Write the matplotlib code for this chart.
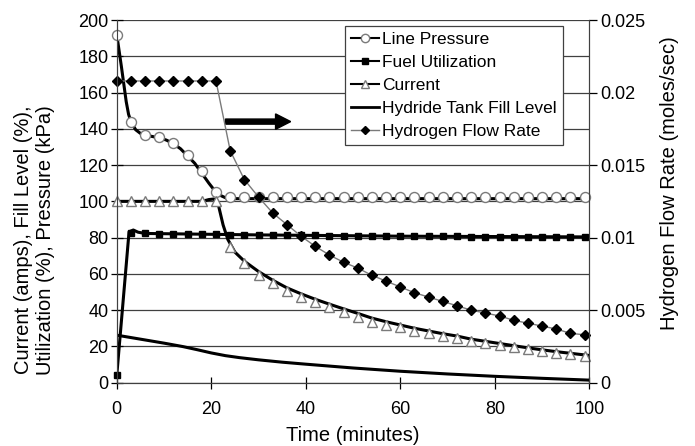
import numpy as np
import matplotlib.pyplot as plt
from matplotlib.lines import Line2D

plt.rcParams['font.family'] = ['Liberation Sans', 'DejaVu Sans']

# Sample times for the markers (minutes)
t_marks = np.arange(0, 100, 3)

# Line pressure (kPa)
pressure_marks = [192, 144, 136.5, 135.5, 132, 125.5, 116.5, 105] + [102.5] * 26
t_pressure_line = [0, 1, 2, 2.5, 3, 4, 5, 6, 7.5, 9, 10.5, 12, 13.5, 15, 16.5, 18,
                   19.5, 21, 22, 23, 24, 27, 100]
pressure_line = [192, 174, 155, 148, 144, 139.5, 137.5, 136.5, 135.8, 135, 133.8,
                 131.8, 129, 125, 121, 115.5, 110, 105, 103.2, 102, 101.5, 101.5, 101.5]

# Fuel utilization (%)
fuel_marks = [4, 82.5, 82.3, 82.2, 82.1, 82, 81.9, 81.8, 81.7, 81.6, 81.5,
              81.4, 81.3, 81.2, 81.2, 81.1, 81.0, 81.0, 80.9, 80.9, 80.8,
              80.8, 80.7, 80.7, 80.7, 80.6, 80.6, 80.6, 80.5, 80.5, 80.5,
              80.5, 80.5, 80.5]
t_fuel_line = [0, 2.6, 3.5, 4.5, 6, 9, 15, 30, 60, 100]
fuel_line = [4, 83.2, 84.2, 83, 82.3, 82.2, 82, 81.5, 80.8, 80.4]

# Current (amps)
current_marks = [100] * 8 + [75, 66, 59.5, 55, 50.7, 47.4, 44.6, 41.9, 39.1, 36.4,
                             33.6, 32, 30.5, 28.6, 27.2, 25.5, 24.4, 23, 21.9, 20.7,
                             19.6, 18.3, 17.2, 16.4, 15.8, 14.9]
t_current_line = [0, 18, 19.5, 20.5, 21.5, 22.5, 23.5, 25, 27, 30, 33, 36, 39, 42,
                  45, 48, 51, 54, 57, 60, 63, 66, 69, 72, 75, 78, 81, 84, 87, 90,
                  93, 96, 100]
current_line = [100, 100, 101, 101.3, 98, 87, 79, 72, 67, 61.3, 56.5, 52.3, 49, 46,
                43.3, 40.7, 38.2, 35.6, 33.6, 31.8, 30, 28.5, 27, 25.7, 24, 22.8,
                21.6, 20.4, 19.2, 18.1, 17.1, 16.2, 15]

# Hydride tank fill level (%)
t_hydride = [0, 5, 10, 14, 17, 20, 23, 26, 30, 35, 40, 50, 60, 70, 80, 90, 100]
hydride = [26.2, 24, 21.8, 19.9, 18.2, 16.4, 14.9, 13.8, 12.6, 11.3, 10.2, 8.1,
           6.3, 4.8, 3.5, 2.4, 1.4]

# Hydrogen flow rate (moles/sec), right axis
flow_marks = [0.0208] * 8 + [0.0160, 0.0140, 0.0128, 0.0117, 0.0109, 0.0101, 0.0094,
                             0.0088, 0.0083, 0.0079, 0.0074, 0.0070, 0.0066, 0.0062,
                             0.0059, 0.0056, 0.0053, 0.0050, 0.0048, 0.0046, 0.0043,
                             0.0041, 0.0039, 0.0037, 0.0034, 0.0033]

left_ticks = np.arange(0, 201, 20)
right_ticks = [0, 0.005, 0.01, 0.015, 0.02, 0.025]
right_labels = ['0', '0.005', '0.01', '0.015', '0.02', '0.025']
x_ticks = np.arange(0, 101, 20)

fig = plt.figure(figsize=(6.95, 4.46), dpi=100)
ax = fig.add_axes([0.168, 0.142, 0.680, 0.813])

ax.set_yticks(left_ticks)
ax.set_xticks(x_ticks)
ax.grid(axis='y', color='#404040', lw=0.9)
ax.set_axisbelow(True)

gray = '#7a7a7a'
ax.plot(t_pressure_line, pressure_line, color='k', lw=2.2, zorder=3)
ax.plot(t_marks, pressure_marks, ls='none', marker='o', ms=7.2, mfc='white',
        mec=gray, mew=1.0, zorder=4, clip_on=False)
ax.plot(t_current_line, current_line, color='k', lw=2.2, zorder=3)
ax.plot(t_marks, current_marks, ls='none', marker='^', ms=7, mfc='white',
        mec=gray, mew=1.0, zorder=4, clip_on=False)
ax.plot(t_fuel_line, fuel_line, color='k', lw=2.2, zorder=3)
ax.plot(t_marks, fuel_marks, ls='none', marker='s', ms=4.5, color='k', zorder=4,
        clip_on=False)
ax.plot(t_hydride, hydride, color='k', lw=2.2, zorder=3)

# Arrow pointing at the right-hand axis
ax.arrow(23, 144, 13.8, 0, width=2.8, head_width=8.5, head_length=3.2,
         length_includes_head=True, color='k', zorder=5)

ax.set_xlim(0, 100)
ax.set_ylim(0, 200)
ax.tick_params(axis='both', direction='inout', length=8, width=0.9, labelsize=13)
ax.tick_params(axis='y', pad=2)
ax.tick_params(axis='x', pad=9)
for s in ax.spines.values():
    s.set_color('#404040')
ax.spines['top'].set_visible(False)

ax.set_xlabel('Time (minutes)', fontsize=14.5, labelpad=6)
ax.set_ylabel('Current (amps), Fill Level (%),\nUtilization (%), Pressure (kPa)',
              fontsize=14.5, linespacing=1.25)
ax.yaxis.set_label_coords(-0.13, 0.394)

ax2 = ax.twinx()
ax2.plot(t_marks, flow_marks, color=gray, lw=1.0, marker='D', ms=5, mfc='k',
         mec='k', clip_on=False)
ax2.set_ylim(0, 0.025)
ax2.set_yticks(right_ticks)
ax2.set_yticklabels(right_labels)
ax2.tick_params(axis='y', direction='out', length=6, width=0.9, labelsize=13, pad=2)
for s in ax2.spines.values():
    s.set_color('#404040')
ax2.spines['top'].set_visible(False)
ax2.set_ylabel('Hydrogen Flow Rate (moles/sec)', fontsize=14.5)
ax2.yaxis.set_label_coords(1.15, 0.551)

handles = [
    Line2D([], [], color='k', lw=1.5, marker='o', ms=6, mfc='white', mec=gray),
    Line2D([], [], color='k', lw=1.5, marker='s', ms=4, mfc='k', mec='k'),
    Line2D([], [], color='k', lw=1.5, marker='^', ms=6, mfc='white', mec=gray),
    Line2D([], [], color='k', lw=2.0),
    Line2D([], [], color=gray, lw=1.0, marker='D', ms=4.5, mfc='k', mec='k'),
]
labels = ['Line Pressure', 'Fuel Utilization', 'Current',
          'Hydride Tank Fill Level', 'Hydrogen Flow Rate']
leg = ax2.legend(handles, labels, loc='upper left', bbox_to_anchor=(0.483, 0.985),
                 fontsize=12.5, frameon=True, fancybox=False, edgecolor='#404040',
                 framealpha=1, handlelength=1.6, handletextpad=0.2,
                 labelspacing=0.45, borderpad=0.35, borderaxespad=0)
leg.get_frame().set_linewidth(0.9)

fig.savefig('out.png', dpi=100)
